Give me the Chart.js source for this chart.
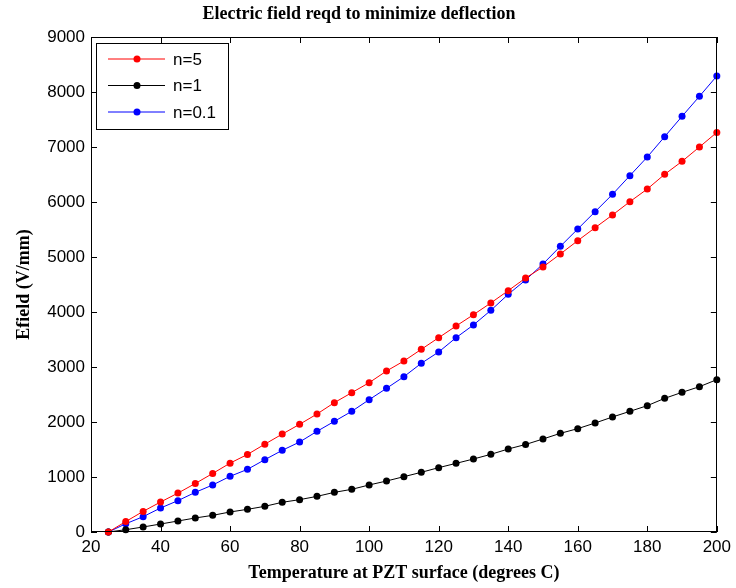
<!DOCTYPE html>
<html>
<head>
<meta charset="utf-8">
<script src="https://cdn.jsdelivr.net/npm/chart.js@4.4.0/dist/chart.umd.min.js"></script>
<style>
  html, body { margin: 0; padding: 0; background: #fff; }
</style>
</head>
<body>
<canvas id="chart-efield" width="736" height="588"></canvas>
<script>
// temperature at PZT surface (degrees C)
const temps = [25, 30, 35, 40, 45, 50, 55, 60, 65, 70, 75, 80, 85, 90, 95, 100, 105, 110,
  115, 120, 125, 130, 135, 140, 145, 150, 155, 160, 165, 170, 175, 180, 185, 190, 195, 200];

// Efield (V/mm) per n
const efieldN5 = [0, 190, 375, 545, 707, 882, 1064, 1252, 1410, 1597, 1780, 1958, 2145, 2352,
  2533, 2715, 2927, 3109, 3321, 3533, 3745, 3951, 4164, 4388, 4618, 4818, 5055, 5297, 5533,
  5764, 6006, 6236, 6503, 6739, 7000, 7265];
const efieldN1 = [0, 42, 91, 145, 200, 255, 303, 364, 412, 467, 540, 588, 648, 721, 776, 855,
  927, 1006, 1085, 1170, 1248, 1327, 1412, 1509, 1591, 1691, 1794, 1879, 1982, 2091, 2194,
  2297, 2430, 2539, 2642, 2770];
const efieldN01 = [0, 150, 279, 436, 570, 721, 855, 1012, 1139, 1315, 1485, 1636, 1830, 2012,
  2194, 2406, 2612, 2824, 3067, 3273, 3533, 3764, 4030, 4321, 4582, 4873, 5194, 5509, 5824,
  6139, 6479, 6818, 7188, 7558, 7921, 8291];

const seriesLabels = ['n=5', 'n=1', 'n=0.1'];
const seriesValues = [efieldN5, efieldN1, efieldN01];
const seriesColors = ['#FF0000', '#000000', '#0000FF'];

const sansFont = '"Liberation Sans", Arial, sans-serif';
const serifFont = '"Liberation Serif", "Times New Roman", serif';

// matlab style box with inward ticks on all four sides
const boxTicks = {
  id: 'boxTicks',
  afterDatasetsDraw(chart) {
    const { ctx, chartArea: a, scales: { x, y } } = chart;
    const len = 6;
    ctx.save();
    ctx.strokeStyle = '#000';
    ctx.lineWidth = 1;
    ctx.beginPath();
    x.ticks.forEach(t => {
      const px = Math.round(x.getPixelForValue(t.value)) + 0.5;
      ctx.moveTo(px, a.bottom); ctx.lineTo(px, a.bottom - len);
      ctx.moveTo(px, a.top); ctx.lineTo(px, a.top + len);
    });
    y.ticks.forEach(t => {
      const py = Math.round(y.getPixelForValue(t.value)) + 0.5;
      ctx.moveTo(a.left, py); ctx.lineTo(a.left + len, py);
      ctx.moveTo(a.right, py); ctx.lineTo(a.right - len, py);
    });
    ctx.stroke();
    ctx.strokeRect(Math.round(a.left) + 0.5, Math.round(a.top) + 0.5,
      Math.round(a.width) - 1, Math.round(a.height) - 1);
    ctx.restore();
  }
};

// legend box in the upper left corner of the axes
const boxLegend = {
  id: 'boxLegend',
  afterDraw(chart) {
    const { ctx, chartArea: a } = chart;
    const bx = a.left + 5, by = a.top + 6, bw = 132, bh = 86;
    ctx.save();
    ctx.fillStyle = '#fff';
    ctx.fillRect(bx, by, bw, bh);
    ctx.strokeStyle = '#000';
    ctx.lineWidth = 1;
    ctx.strokeRect(bx + 0.5, by + 0.5, bw, bh);
    ctx.font = '17px ' + sansFont;
    ctx.textBaseline = 'middle';
    chart.data.datasets.forEach((ds, i) => {
      const ry = by + 16 + i * 26.5;
      ctx.strokeStyle = ds.borderColor;
      ctx.beginPath();
      ctx.moveTo(bx + 12, ry); ctx.lineTo(bx + 69, ry);
      ctx.stroke();
      ctx.fillStyle = ds.backgroundColor;
      ctx.beginPath();
      ctx.arc(bx + 41, ry, 3.5, 0, Math.PI * 2);
      ctx.fill();
      ctx.fillStyle = '#000';
      ctx.fillText(ds.label, bx + 77, ry + 1);
    });
    ctx.restore();
  }
};

const datasets = seriesLabels.map((label, i) => ({
  label,
  data: temps.map((t, j) => ({ x: t, y: seriesValues[i][j] })),
  borderColor: seriesColors[i],
  backgroundColor: seriesColors[i],
  borderWidth: 1,
  pointRadius: 3.5,
  pointBorderWidth: 0,
  pointHoverRadius: 3.5,
  clip: false,
}));

new Chart(document.getElementById('chart-efield'), {
  type: 'line',
  data: { datasets },
  plugins: [boxTicks, boxLegend],
  options: {
    responsive: false,
    animation: false,
    layout: { padding: { left: 0, right: 18, top: 0, bottom: 0 } },
    plugins: {
      legend: { display: false },
      tooltip: { enabled: false },
      title: {
        display: true,
        text: 'Electric field reqd to minimize deflection',
        color: '#000',
        font: { family: serifFont, size: 18, weight: 'bold' },
        padding: { top: 4, bottom: 11.4 }
      }
    },
    scales: {
      x: {
        type: 'linear',
        min: 20, max: 200,
        afterFit: s => { s.height = 56; },
        grid: { display: false, drawTicks: false },
        border: { display: false },
        ticks: { stepSize: 20, color: '#000', padding: 5, maxRotation: 0,
          font: { family: sansFont, size: 17 }, callback: v => String(v) },
        title: { display: true, text: 'Temperature at PZT surface (degrees C)', color: '#000',
          font: { family: serifFont, size: 18, weight: 'bold' }, padding: { top: 0, bottom: 4 } }
      },
      y: {
        min: 0, max: 9000,
        afterFit: s => { s.width = 91; },
        grid: { display: false, drawTicks: false },
        border: { display: false },
        ticks: { stepSize: 1000, color: '#000', padding: 6,
          font: { family: sansFont, size: 17 }, callback: v => String(v) },
        title: { display: true, text: 'Efield (V/mm)', color: '#000',
          font: { family: serifFont, size: 18, weight: 'bold' }, padding: { top: 14, bottom: 0 } }
      }
    }
  }
});
</script>
</body>
</html>
